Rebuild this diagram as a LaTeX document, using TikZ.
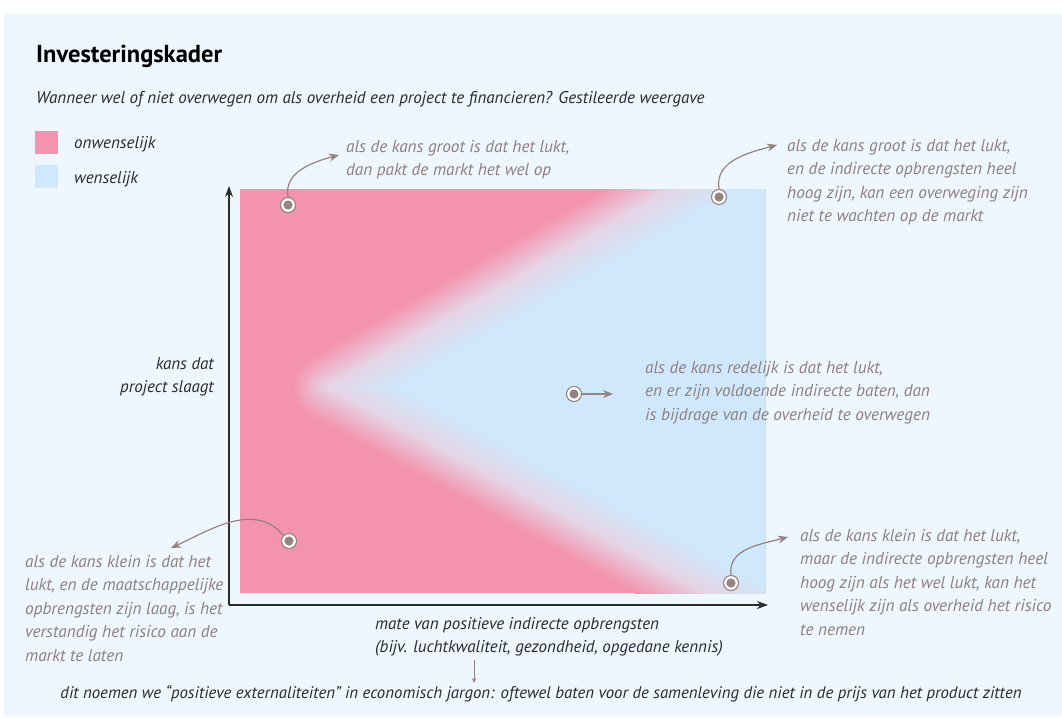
\documentclass[tikz,border=0pt]{standalone}
\usepackage{fontspec}
\setmainfont{PT Sans}
\usetikzlibrary{arrows.meta}
\definecolor{pinkc}{HTML}{F493AD}
\definecolor{bluec}{HTML}{D0E8FB}
\definecolor{midc}{HTML}{E6D4E6}
\definecolor{bgc}{HTML}{EEF6FE}
\definecolor{graytext}{HTML}{8E8080}
\definecolor{brownc}{HTML}{968380}
\definecolor{darktext}{HTML}{2B2B2B}
\tikzset{
  anno/.style={font=\fontsize{17.2}{23.5}\selectfont\itshape, text=graytext, align=left, anchor=north west, inner sep=0pt},
  darklab/.style={font=\fontsize{17}{23.5}\selectfont\itshape, text=darktext, inner sep=0pt},
  dotnode/.style={circle, inner sep=0pt, minimum size=15pt, fill=white, draw=brownc, line width=1.1pt,
    path picture={\fill[brownc] (path picture bounding box.center) circle (4.6pt);}},
  conn/.style={draw=brownc, line width=1.2pt, -{Stealth[length=10pt,width=8pt]}},
  axis/.style={draw=darktext, line width=1.2pt, -{Stealth[length=11pt,width=8pt]}},
  legbox/.style={inner sep=0pt, minimum width=23pt, minimum height=23pt}
}
\begin{document}
\begin{tikzpicture}[x=1pt,y=-1pt]
\useasboundingbox (0,0) rectangle (1062,717);
\fill[white] (0,0) rectangle (1062,717);
\fill[bgc] (4,14) rectangle (1062,717);
% chart field
\begin{scope}
\clip (240,189) rectangle (765,593);
\fill[pinkc] (240,189) rectangle (765,593);
\foreach \i in {0,...,24} {
  \pgfmathsetmacro\s{34*(1-\i/24)}
  \pgfmathtruncatemacro\p{100*\i/24}
  \filldraw[fill=midc!\p!pinkc, draw=midc!\p!pinkc, line width=2*\s pt, line join=round] (326,387) -- (1012,-9) -- (1084,799) -- cycle;
}
\foreach \i in {1,...,24} {
  \pgfmathsetmacro\u{2.04*34*\i/24}
  \pgfmathtruncatemacro\p{100*\i/24}
  \fill[bluec!\p!midc] ({326+\u},387) -- ({1012+\u},-9) -- ({1084+\u},799) -- cycle;
}
\end{scope}
% title
\node[anchor=base west, inner sep=0pt, font=\fontsize{24.5}{27}\selectfont\bfseries, text=black] (title) at (36,63) {Investeringskader};
\node[anchor=base west, inner sep=0pt, font=\fontsize{17}{20}\selectfont\itshape, text=darktext] (sub) at (36,103) {Wanneer wel of niet overwegen om als overheid een project te financieren? Gestileerde weergave};
% legend
\node[legbox, fill=pinkc, anchor=north west] (lp) at (35,131) {};
\node[legbox, fill=bluec, anchor=north west] (lb) at (35,165) {};
\node[darklab, anchor=base west] (lpt) at (74,148) {onwenselijk};
\node[darklab, anchor=base west] (lbt) at (74,183) {wenselijk};
% axes
\coordinate (O) at (229,605);
\coordinate (ytop) at (229,186);
\coordinate (xend) at (768,605);
\draw[axis] (O) -- (ytop);
\draw[axis] (O) -- (xend);
\node[darklab, align=right, anchor=north east] (ylab) at (214,357) {kans dat\\project slaagt};
\node[darklab, align=left, anchor=north west] (xlab) at (375,617) {mate van positieve indirecte opbrengsten\\(bijv. luchtkwaliteit, gezondheid, opgedane kennis)};
\coordinate (sa) at (474,660);
\coordinate (sb) at (474,683);
\draw[draw=graytext, line width=0.8pt, -{Stealth[length=5pt,width=4pt]}] (sa) -- (sb);
\node[darklab, anchor=base, font=\fontsize{16.8}{20}\selectfont\itshape] (foot) at (541,698) {dit noemen we “positieve externaliteiten” in economisch jargon: oftewel baten voor de samenleving die niet in de prijs van het product zitten};
% annotations
\node[anno] (t1) at (346,140) {als de kans groot is dat het lukt,\\dan pakt de markt het wel op};
\node[anno] (t2) at (787,139) {als de kans groot is dat het lukt,\\en de indirecte opbrengsten heel\\hoog zijn, kan een overweging zijn\\niet te wachten op de markt};
\node[anno] (t3) at (645,361) {als de kans redelijk is dat het lukt,\\en er zijn voldoende indirecte baten, dan\\is bijdrage van de overheid te overwegen};
\node[anno] (t4) at (25,555) {als de kans klein is dat het\\lukt, en de maatschappelijke\\opbrengsten zijn laag, is het\\verstandig het risico aan de\\markt te laten};
\node[anno] (t5) at (800,529) {als de kans klein is dat het lukt,\\maar de indirecte opbrengsten heel\\hoog zijn als het wel lukt, kan het\\wenselijk zijn als overheid het risico\\te nemen};
% dots
\node[dotnode] (d1) at (288,205) {};
\node[dotnode] (d2) at (719,197) {};
\node[dotnode] (d3) at (574,394) {};
\node[dotnode] (d4) at (289,541) {};
\node[dotnode] (d5) at (731,583) {};
\coordinate (e1) at (339,155);
\coordinate (e2) at (777,145);
\coordinate (e3) at (613,394);
\coordinate (e4) at (171,548);
\coordinate (e5) at (788,537);
\draw[conn] (d1.north) to[out=100,in=195] (e1);
\draw[conn] (d2.north) to[out=100,in=195] (e2);
\draw[conn] (d3.east) -- (e3);
\draw[conn] (d4.north west) to[out=130,in=25] (e4);
\draw[conn] (d5.north) to[out=98,in=195] (e5);
\end{tikzpicture}
\end{document}
